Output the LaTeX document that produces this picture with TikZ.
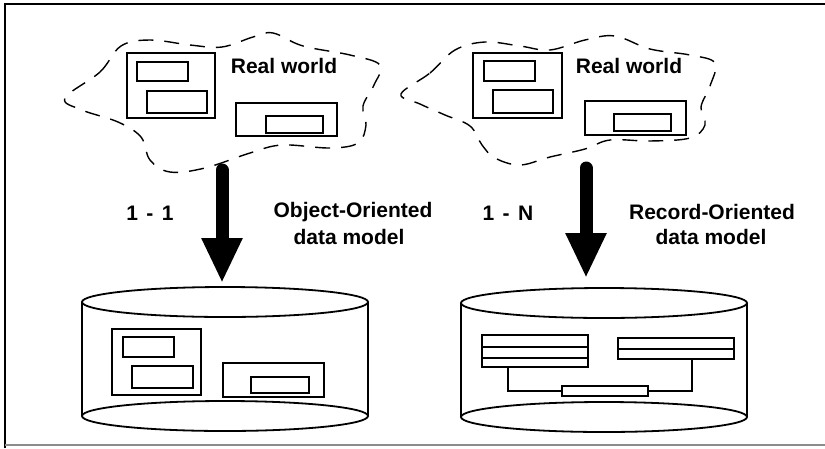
\documentclass[tikz,border=0pt]{standalone}
\usepackage{fontspec}
\setmainfont{Liberation Sans}
\usetikzlibrary{arrows.meta}
\tikzset{
  box/.style={draw=black, line width=1.8pt, fill=white},
  cloud/.style={draw=black, line width=1.4pt, dash pattern=on 15pt off 11pt},
  cyl/.style={draw=black, line width=1.8pt},
  bigarrow/.style={line width=13pt, line cap=round, -{Triangle[length=45pt,width=38pt]}},
  lbl/.style={font=\fontsize{21}{24}\selectfont\bfseries, inner sep=0pt},
  rec/.style={draw=black, line width=1.8pt, fill=white, inner sep=0pt},
  link/.style={draw=black, line width=1.4pt}
}
\begin{document}
\begin{tikzpicture}[x=1pt, y=-1pt]
\useasboundingbox (0,0) rectangle (825,448);
% frame
\draw[line width=1.6pt] (5,448) -- (5,4) -- (825,4);
\draw[line width=1.2pt, black!45] (5,445) -- (825,445);

% left cloud
\draw[cloud] plot[smooth cycle, tension=0.6] coordinates {(65,98) (100,72) (121,46) (150,40) (190,45) (222,47) (253,37) (273,33) (303,46) (350,55) (380,65) (374,85) (363,106) (366,125) (358,143) (330,148) (282,145) (250,153) (205,168) (170,172) (150,160) (141,137) (118,122) (82,110)};
% right cloud
\draw[cloud] plot[smooth cycle, tension=0.6] coordinates {(401,94) (430,73) (455,50) (485,42) (520,46) (550,50) (585,40) (615,36) (650,49) (690,55) (715,63) (710,86) (701,107) (705,125) (690,138) (650,141) (610,140) (585,149) (550,157) (520,165) (495,158) (482,145) (470,126) (445,115) (420,104)};

% left real world objects
\draw[box] (127,53) rectangle (215,118);
\draw[box] (137,62) rectangle (188,81);
\draw[box] (147,91) rectangle (207,113);
\draw[box] (236,103) rectangle (337,136);
\draw[box] (266,116) rectangle (323,133);
\node[lbl] (rwA) at (284,66) {Real world};

% right real world objects
\draw[box] (473,53) rectangle (562,118);
\draw[box] (484,61) rectangle (535,81);
\draw[box] (493,90) rectangle (553,113);
\draw[box] (585,101) rectangle (686,135);
\draw[box] (614,114) rectangle (671,131);
\node[lbl] (rwB) at (629,66) {Real world};

% arrows
\coordinate (a1s) at (222,170);
\coordinate (a1e) at (222,283);
\coordinate (a2s) at (586,168);
\coordinate (a2e) at (586,278);
\draw[bigarrow] (a1s) -- (a1e);
\draw[bigarrow] (a2s) -- (a2e);

% labels
\node[lbl] (m1) at (150,213) {1\hspace{0.4em}-\hspace{0.4em}1};
\node[lbl] (m2) at (508,213) {1\hspace{0.4em}-\hspace{0.4em}N};
\node[lbl] (oo1) at (353,212) {Object-Oriented};
\node[lbl] (oo2) at (349,237) {data model};
\node[lbl] (ro1) at (712,212) {Record-Oriented};
\node[lbl] (ro2) at (711,237) {data model};

% left cylinder
\draw[cyl] (225,416) ellipse [x radius=143pt, y radius=15pt];
\draw[cyl, fill=white] (225,302) ellipse [x radius=143pt, y radius=15pt];
\draw[cyl] (82,302) -- (82,416);
\draw[cyl] (368,302) -- (368,416);
\draw[box] (112,329) rectangle (201,395);
\draw[box] (123,337) rectangle (174,357);
\draw[box] (132,366) rectangle (193,388);
\draw[box] (223,363) rectangle (324,397);
\draw[box] (251,377) rectangle (309,393);

% right cylinder
\draw[cyl] (604,417) ellipse [x radius=143pt, y radius=15pt];
\draw[cyl, fill=white] (604,303) ellipse [x radius=143pt, y radius=15pt];
\draw[cyl] (461,303) -- (461,417);
\draw[cyl] (747,303) -- (747,417);

% records
\node[rec, minimum width=106pt, minimum height=32pt] (rA) at (535,351) {};
\draw[line width=1.8pt] (482,347) -- (588,347);
\draw[line width=1.8pt] (482,358) -- (588,358);
\node[rec, minimum width=116pt, minimum height=21pt] (rB) at (676,348.5) {};
\draw[line width=1.8pt] (618,349) -- (734,349);
\node[rec, minimum width=86pt, minimum height=10pt] (rC) at (605,391) {};
\draw[link] ([xshift=-27pt]rA.south) |- (rC.west);
\draw[link] ([xshift=16pt]rB.south) |- (rC.east);
\end{tikzpicture}
\end{document}
